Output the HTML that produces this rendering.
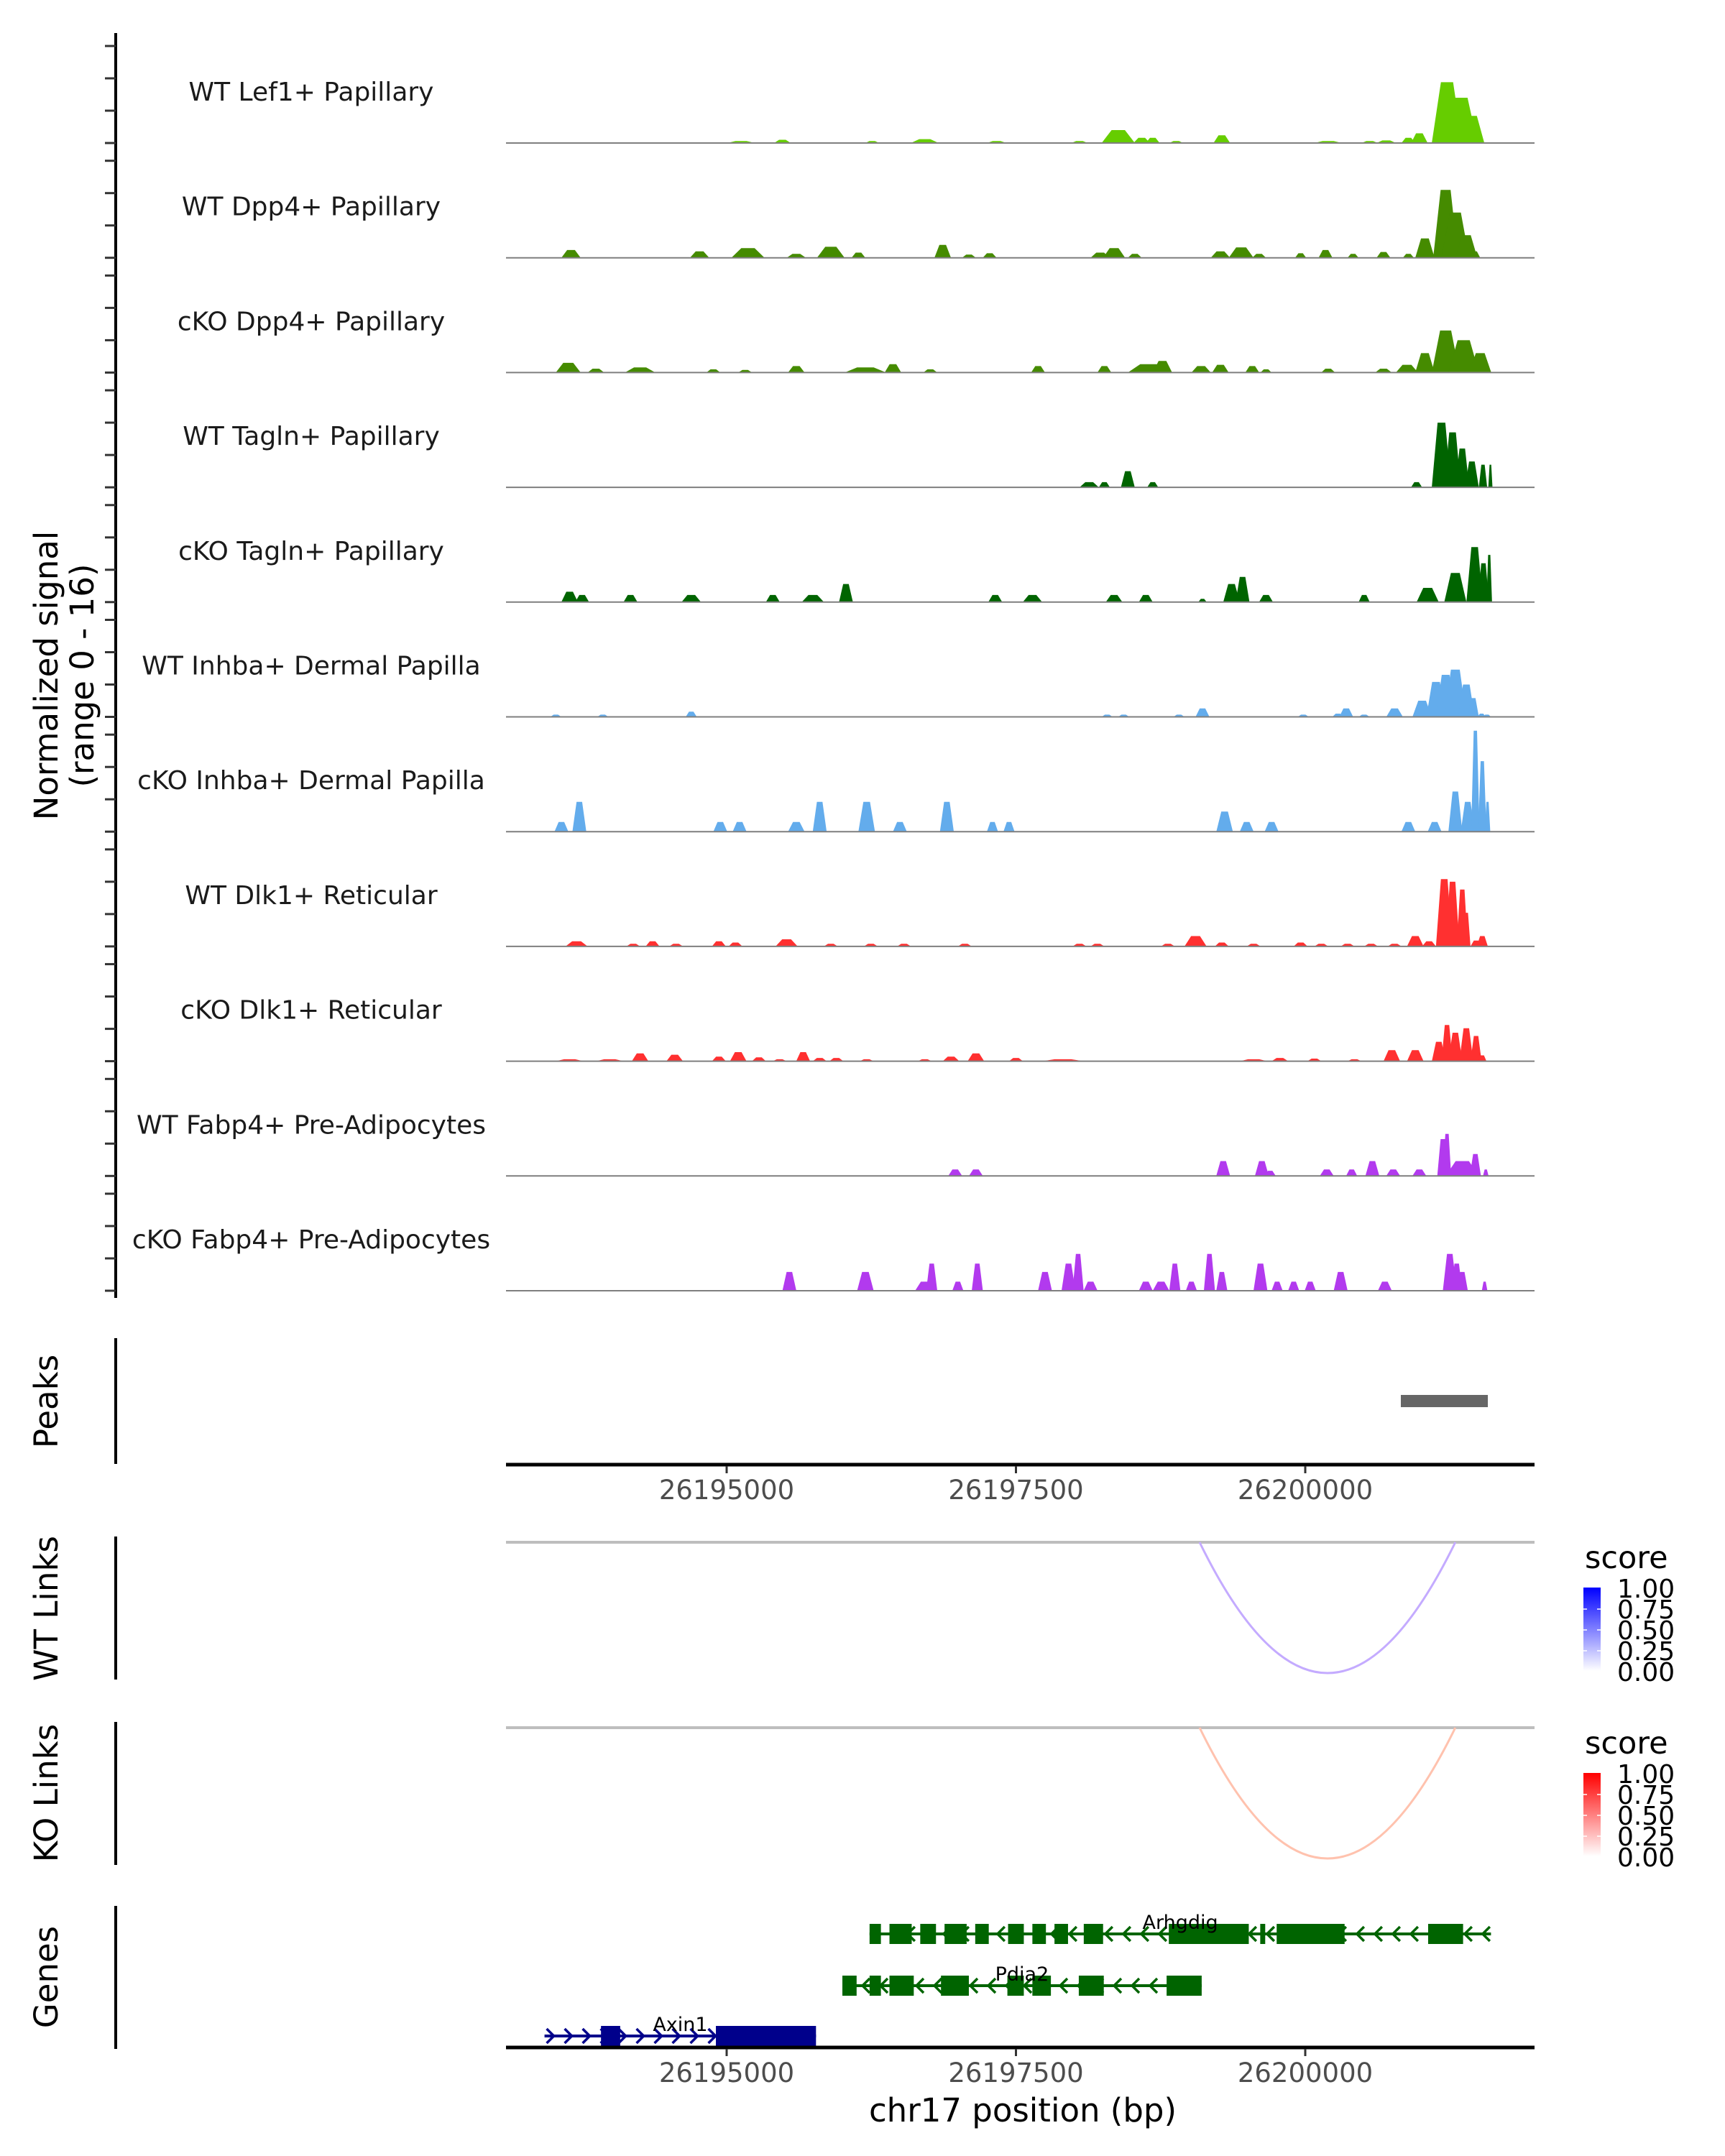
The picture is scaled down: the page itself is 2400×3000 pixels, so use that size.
<!DOCTYPE html>
<html><head><meta charset="utf-8">
<style>
html,body{margin:0;padding:0;background:#fff;}
svg{display:block;}
text{font-family:"DejaVu Sans","Liberation Sans",sans-serif;}
</style></head>
<body>
<svg id="chart" width="2400" height="3000" viewBox="0 0 2400 3000" xmlns="http://www.w3.org/2000/svg">
<rect width="2400" height="3000" fill="#fff"/>
<g id="tracks"></g>
<g id="yaxis">
<line x1="161" y1="46" x2="161" y2="1806" stroke="#000" stroke-width="4"/>
</g>
<text transform="translate(80,940) rotate(-90)" text-anchor="middle" font-size="45" fill="#000">Normalized signal</text>
<text transform="translate(130,940) rotate(-90)" text-anchor="middle" font-size="45" fill="#000">(range 0 - 16)</text>

<g>
<line x1="161" y1="1862" x2="161" y2="2037" stroke="#000" stroke-width="4"/>
<text transform="translate(80,1950) rotate(-90)" text-anchor="middle" font-size="45">Peaks</text>
<g id="peaks"></g>
<line x1="704" y1="2038" x2="2135" y2="2038" stroke="#000" stroke-width="5"/>
<g id="xticks1"></g>
</g>

<g>
<line x1="161" y1="2138" x2="161" y2="2337" stroke="#000" stroke-width="4"/>
<text transform="translate(80,2238) rotate(-90)" text-anchor="middle" font-size="45">WT Links</text>
<line x1="704" y1="2146" x2="2135" y2="2146" stroke="#bebebe" stroke-width="4"/>
<g id="wtlinks"></g>
</g>

<g>
<line x1="161" y1="2396" x2="161" y2="2595" stroke="#000" stroke-width="4"/>
<text transform="translate(80,2495) rotate(-90)" text-anchor="middle" font-size="45">KO Links</text>
<line x1="704" y1="2404" x2="2135" y2="2404" stroke="#bebebe" stroke-width="4"/>
<g id="kolinks"></g>
</g>

<defs>
<linearGradient id="gblue" x1="0" y1="1" x2="0" y2="0"><stop offset="0" stop-color="#ffffff"/><stop offset="1" stop-color="#0000ff"/></linearGradient>
<linearGradient id="gred" x1="0" y1="1" x2="0" y2="0"><stop offset="0" stop-color="#ffffff"/><stop offset="1" stop-color="#ff0000"/></linearGradient>
</defs>
<g id="legends"></g>

<g>
<line x1="161" y1="2652" x2="161" y2="2851" stroke="#000" stroke-width="4"/>
<text transform="translate(80,2751) rotate(-90)" text-anchor="middle" font-size="45">Genes</text>
<g id="genes"></g>
<line x1="704" y1="2849" x2="2135" y2="2849" stroke="#000" stroke-width="5"/>
<g id="xticks2"></g>
<text x="1423" y="2952" text-anchor="middle" font-size="45">chr17 position (bp)</text>
</g>
</svg>
<script>
// ---- data ----
const trackNames = ["WT Lef1+ Papillary","WT Dpp4+ Papillary","cKO Dpp4+ Papillary","WT Tagln+ Papillary","cKO Tagln+ Papillary","WT Inhba+ Dermal Papilla","cKO Inhba+ Dermal Papilla","WT Dlk1+ Reticular","cKO Dlk1+ Reticular","WT Fabp4+ Pre-Adipocytes","cKO Fabp4+ Pre-Adipocytes"];
const trackColors = ["#66cd00","#458b00","#458b00","#006400","#006400","#63acec","#63acec","#ff3030","#ff3030","#b23aee","#b23aee"];
// each entry: [center bp, width bp, signal value]
const wtLef1 = [[26201225,263,9.4],[26201345,287,7.0],[26201440,215,4.2],[26200986,143,1.5],[26200891,120,0.8],[26198384,287,2.0],[26198587,143,0.8],[26198682,120,0.8],[26199279,143,1.2],[26195482,143,0.5],[26196712,239,0.6],[26196258,120,0.3],[26197333,167,0.3],[26198049,143,0.3],[26198885,120,0.3],[26200198,239,0.3],[26200557,143,0.3],[26195124,239,0.3],[26200700,167,0.4]];
const wtDpp4 = [[26201213,215,10.5],[26201297,239,7],[26201392,191,3.5],[26201034,167,3],[26201464,96,1],[26193655,167,1.2],[26194766,167,1.0],[26195184,287,1.5],[26195602,167,0.6],[26195900,239,1.7],[26196139,120,0.8],[26196867,143,2.0],[26197094,120,0.5],[26197273,120,0.7],[26198228,167,0.8],[26198348,191,1.5],[26198527,120,0.6],[26199267,167,1.0],[26199446,215,1.6],[26199601,120,0.6],[26199960,96,0.7],[26200175,120,1.2],[26200413,96,0.6],[26200676,120,0.9],[26200891,96,0.6]];
const koDpp4 = [[26201213,239,6.5],[26201369,263,5],[26201512,191,3],[26201034,167,3.0],[26200879,191,1.2],[26193631,215,1.5],[26193870,143,0.6],[26194252,263,0.8],[26194885,120,0.5],[26195160,120,0.4],[26195602,143,1.0],[26196199,358,0.8],[26196437,143,1.3],[26196760,120,0.5],[26197691,120,1.0],[26198264,120,1.0],[26198646,358,1.3],[26198766,167,1.8],[26199100,167,1.0],[26199267,143,1.2],[26199542,120,1.0],[26199661,96,0.5],[26200198,120,0.6],[26200676,143,0.6]];
const wtTagln = [[26201177,167,10],[26201273,143,8.5],[26201357,120,6],[26201440,120,4],[26201536,72,3.5],[26201600,36,3.5],[26200962,96,0.8],[26198133,167,0.8],[26198467,120,2.5],[26198682,96,0.8],[26198264,96,0.8]];
const koTagln = [[26193643,143,1.6],[26193751,120,1.1],[26194169,120,1.1],[26194694,167,1.1],[26195399,120,1.1],[26195745,191,1.1],[26196031,120,2.8],[26197321,120,1.1],[26197643,167,1.1],[26198348,143,1.1],[26198622,120,1.1],[26199112,72,0.5],[26199363,143,2.8],[26199458,120,3.9],[26199661,120,1.1],[26200509,96,1.1],[26201058,191,2.2],[26201297,191,4.5],[26201464,143,8.5],[26201540,96,6],[26201590,48,7.3]];
const wtInhba = [[26193524,96,0.35],[26193930,96,0.35],[26194694,96,0.8],[26198288,96,0.35],[26198431,96,0.35],[26198909,96,0.35],[26199112,120,1.3],[26199983,96,0.35],[26200282,96,0.5],[26200354,120,1.3],[26200509,96,0.35],[26200772,143,1.3],[26201010,167,2.5],[26201130,167,5.4],[26201213,167,6.5],[26201297,191,7.3],[26201392,143,5],[26201452,96,2.9],[26201524,72,0.5],[26201570,72,0.35]];
const koInhba = [[26193572,120,1.5],[26193727,120,4.6],[26194945,120,1.5],[26195112,120,1.5],[26195602,143,1.5],[26195804,120,4.6],[26196210,143,4.6],[26196497,120,1.5],[26196903,120,4.6],[26197297,96,1.5],[26197440,96,1.5],[26199303,143,3.1],[26199494,120,1.5],[26199709,120,1.5],[26200891,120,1.5],[26201118,120,1.5],[26201297,120,6.2],[26201404,120,4.6],[26201470,72,15.6],[26201530,72,10.9],[26201575,48,4.6]];
const wtDlk1 = [[26193703,191,0.8],[26194193,120,0.4],[26194360,120,0.8],[26194563,120,0.4],[26194933,120,0.8],[26195076,120,0.6],[26195518,191,1.1],[26195900,120,0.4],[26196246,120,0.4],[26196533,120,0.4],[26197058,120,0.4],[26198049,120,0.4],[26198204,120,0.4],[26198813,120,0.4],[26199052,191,1.6],[26199279,120,0.6],[26199554,120,0.4],[26199960,120,0.6],[26200139,120,0.4],[26200366,120,0.4],[26200569,120,0.4],[26200772,120,0.4],[26200951,143,1.6],[26201070,120,0.8],[26201201,143,10.4],[26201273,120,10],[26201357,96,8.8],[26201392,72,5.2],[26201476,96,0.9],[26201530,96,1.6]];
const koDlk1 = [[26193643,239,0.3],[26193990,239,0.3],[26194252,143,1.2],[26194551,143,1.0],[26194933,120,0.7],[26195100,143,1.4],[26195279,120,0.6],[26195458,120,0.3],[26195661,120,1.4],[26195804,120,0.5],[26195948,120,0.5],[26196210,120,0.3],[26196712,120,0.3],[26196939,143,0.7],[26197154,143,1.2],[26197500,120,0.5],[26197906,358,0.3],[26199554,239,0.3],[26199781,143,0.5],[26200079,120,0.4],[26200425,120,0.3],[26200748,143,1.7],[26200951,143,1.7],[26201154,120,3.0],[26201225,96,5.6],[26201297,120,4.4],[26201392,120,5.1],[26201476,96,3.9],[26201530,72,0.9]];
const wtFabp4 = [[26196975,120,1.0],[26197154,120,1.0],[26199291,120,2.3],[26199625,120,2.3],[26199697,96,0.8],[26200186,120,1.0],[26200401,96,1.0],[26200580,120,2.3],[26200760,120,1.0],[26200986,120,1.0],[26201189,96,5.7],[26201225,72,6.5],[26201357,287,2.3],[26201470,96,3.4],[26201560,48,1.0]];
const koFabp4 = [[26195542,120,2.9],[26196199,143,2.9],[26196712,167,1.4],[26196772,96,4.2],[26196998,96,1.4],[26197166,96,4.2],[26197751,120,2.9],[26197954,120,4.2],[26198037,96,5.7],[26198145,120,1.4],[26198622,120,1.4],[26198754,143,1.4],[26198873,96,4.2],[26199016,96,1.4],[26199172,96,5.7],[26199279,96,2.9],[26199613,120,4.2],[26199757,96,1.4],[26199900,96,1.4],[26200043,96,1.4],[26200306,120,2.9],[26200688,120,1.4],[26201249,120,5.7],[26201309,96,4.2],[26201357,96,2.9],[26201550,48,1.4]];
const trackData = [wtLef1,wtDpp4,koDpp4,wtTagln,koTagln,wtInhba,koInhba,wtDlk1,koDlk1,wtFabp4,koFabp4];

const xTicks = [26195000,26197500,26200000];
const xTickLabels = ["26195000","26197500","26200000"];
const peakStarts = [26200826];
const peakEnds = [26201578];
const wtLinkStart = [26199087];
const wtLinkEnd = [26201297];
const wtLinkScore = [0.3];
const koLinkStart = [26199087];
const koLinkEnd = [26201297];
const koLinkScore = [0.3];
const legendLabels = ["1.00","0.75","0.50","0.25","0.00"];

const geneNames = ["Arhgdig","Pdia2","Axin1"];
const geneStrands = [-1,-1,1];
const geneStarts = [26196235,26196000,26193426];
const geneEnds = [26201605,26199105,26195772];
const arhgdigExons = [[26196235,26196333],[26196407,26196599],[26196673,26196809],[26196883,26197074],[26197148,26197265],[26197432,26197568],[26197642,26197759],[26197833,26197950],[26198086,26198253],[26198821,26199512],[26199611,26199654],[26199753,26200340],[26201062,26201364]];
const pdia2Exons = [[26196000,26196123],[26196235,26196333],[26196407,26196617],[26196852,26197093],[26197426,26197568],[26197642,26197802],[26198043,26198259],[26198802,26199105]];
const axin1Exons = [[26193914,26194080],[26194907,26195772]];
const geneExons = [arhgdigExons,pdia2Exons,axin1Exons];
const geneColors = ["#006400","#006400","#00008b"];

// ---- scales ----
const NS="http://www.w3.org/2000/svg";
function X(bp){return 1011+(bp-26195000)*0.161;}
const unitPx = 9.0;
function baseY(i){return 199+i*159.7;}
function mk(tag,attrs,parent){const e=document.createElementNS(NS,tag);for(const k in attrs)e.setAttribute(k,attrs[k]);parent.appendChild(e);return e;}

// ---- signal tracks ----
const tracksG=document.getElementById('tracks');
const yaxisG=document.getElementById('yaxis');
trackData.forEach((data,i)=>{
  const by=baseY(i);
  const g=mk('g',{},tracksG);
  
  
  const lab=mk('text',{x:433,y:by-59,'text-anchor':'middle','font-size':36,fill:'#1a1a1a'},g);
  lab.textContent=trackNames[i];
  
  
  data.forEach(d=>{
    const c=d[0],w=d[1],v=d[2];
    const x1=X(c-w/2),x2=X(c-w/5),x3=X(c+w/5),x4=X(c+w/2),yt=by-v*unitPx;
    const p=mk('polygon',{points:`${x1},${by} ${x2},${yt} ${x3},${yt} ${x4},${by}`,fill:trackColors[i]},g);
    
    
  });
  const bl=mk('line',{x1:704,y1:by,x2:2135,y2:by,stroke:'#7f7f7f','stroke-width':2},g);
  
  
  for(let k=0;k<4;k++){
    const t=mk('line',{x1:146,y1:by-k*45,x2:161,y2:by-k*45,stroke:'#333','stroke-width':3},yaxisG);
    
    
  }
});

// ---- peaks ----
const peaksG=document.getElementById('peaks');
peakStarts.forEach((s,i)=>{
  const r=mk('rect',{x:X(s),y:1941,width:X(peakEnds[i])-X(s),height:17,fill:'#666666'},peaksG);
  
  
});

// ---- x ticks ----
[['xticks1',2038],['xticks2',2849]].forEach(([id,ay])=>{
  const g=document.getElementById(id);
  xTicks.forEach((t,i)=>{
    const l=mk('line',{x1:X(t),y1:ay+2,x2:X(t),y2:ay+12,stroke:'#333','stroke-width':3},g);
    
    
    const tx=mk('text',{x:X(t),y:ay+48,'text-anchor':'middle','font-size':37,fill:'#4d4d4d'},g);
    tx.textContent=xTickLabels[i];
    
    
  });
});

// ---- links ----
function drawLinks(gid,starts,ends,scores,base,depth,col){
  const g=document.getElementById(gid);
  starts.forEach((s,i)=>{
    const x1=X(s),x2=X(ends[i]),dd=depth*(0.7+scores[i]);
    const p=mk('path',{d:`M${x1},${base} Q${(x1+x2)/2},${base+2*dd} ${x2},${base}`,fill:'none',stroke:col,'stroke-width':3},g);
    
    
  });
}
drawLinks('wtlinks',wtLinkStart,wtLinkEnd,wtLinkScore,2146,182,'#c4abff');
drawLinks('kolinks',koLinkStart,koLinkEnd,koLinkScore,2404,182,'#ffc2ae');

// ---- legends ----
const legG=document.getElementById('legends');
[[2146,'url(#gblue)','wt-score-legend'],[2404,'url(#gred)','ko-score-legend']].forEach(([off,grad,name])=>{
  const g=mk('g',{},legG);
  
  
  const t=mk('text',{x:2205,y:off+36,'font-size':43,fill:'#000'},g);
  t.textContent='score';
  
  
  const r=mk('rect',{x:2203,y:off+63,width:24,height:116,fill:grad},g);
  
  
  legendLabels.forEach((lb,k)=>{
    const yy=off+64+k*29;
    if(k>0&&k<4){
      const m=mk('line',{x1:2203,y1:yy,x2:2208,y2:yy,stroke:'#fff','stroke-width':1.5},g);
      
      
      const m2=mk('line',{x1:2222,y1:yy,x2:2227,y2:yy,stroke:'#fff','stroke-width':1.5},g);
      
      
    }
    const tx=mk('text',{x:2250,y:yy+13,'font-size':36,fill:'#000'},g);
    tx.textContent=lb;
    
    
  });
});

// ---- genes ----
const genesG=document.getElementById('genes');
const geneRowY=[2691,2763,2833];
geneNames.forEach((name,i)=>{
  const g=mk('g',{},genesG);
  
  
  const y=geneRowY[i],col=geneColors[i];
  const xs=X(geneStarts[i]),xe=X(geneEnds[i]);
  const ln=mk('line',{x1:xs,y1:y,x2:xe,y2:y,stroke:col,'stroke-width':4},g);
  
  
  for(let x=xs+8;x<xe-4;x+=25){
    const dir=geneStrands[i];
    const p=mk('polyline',{points:`${x-5*dir},${y-10} ${x+5*dir},${y} ${x-5*dir},${y+10}`,fill:'none',stroke:col,'stroke-width':3.5},g);
    
    
  }
  geneExons[i].forEach(ex=>{
    const r=mk('rect',{x:X(ex[0]),y:y-14,width:X(ex[1])-X(ex[0]),height:28,fill:col},g);
    
    
  });
  const t=mk('text',{x:X((geneStarts[i]+geneEnds[i])/2),y:y-7,'text-anchor':'middle','font-size':27,fill:'#000'},g);
  t.textContent=name;
  
  
});
</script>
</body></html>
